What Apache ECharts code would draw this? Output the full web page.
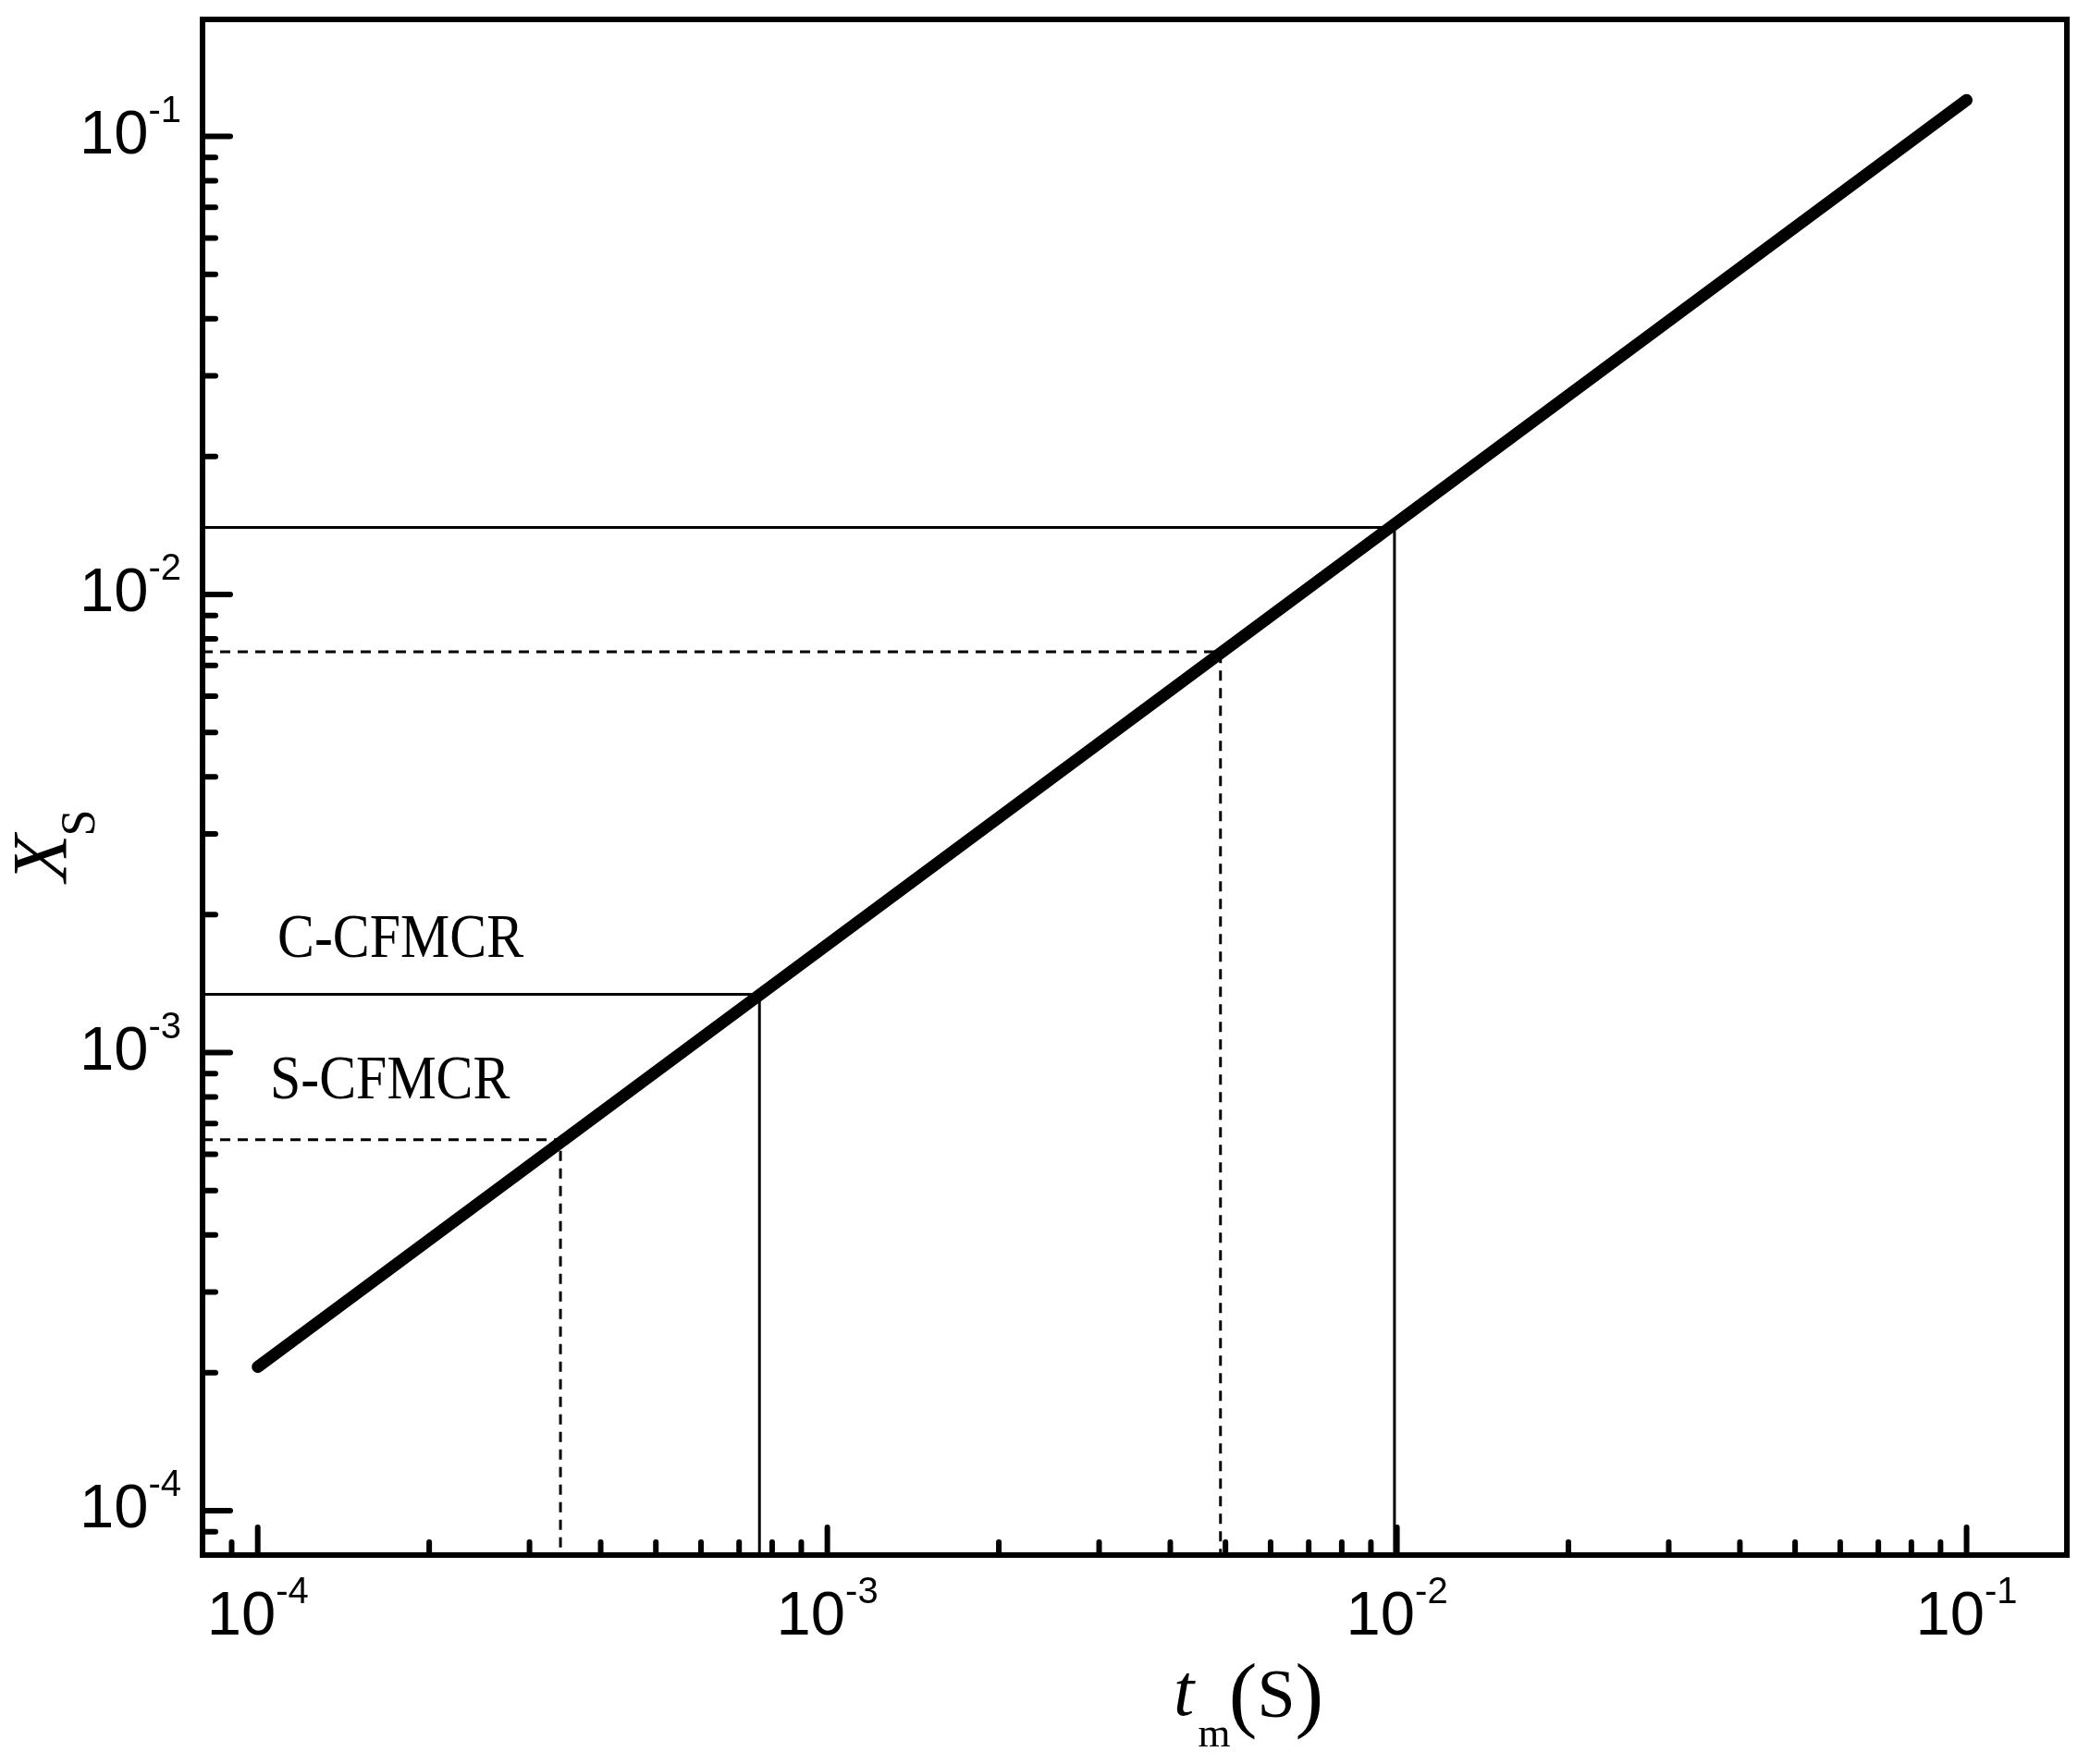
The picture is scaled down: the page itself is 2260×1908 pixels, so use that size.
<!DOCTYPE html>
<html>
<head>
<meta charset="utf-8">
<script src="https://cdn.jsdelivr.net/npm/echarts@6/dist/echarts.min.js"></script>
<style>
html, body { margin: 0; padding: 0; background: #fff; }
#chart { width: 2260px; height: 1908px; }
</style>
</head>
<body>
<div id="chart"></div>
<script>
// 坐标轴范围 (对数)
var xRange = [8e-5, 0.15]
var yRange = [8e-5, 0.18]
// 主线 t_m - X_S
var mainLine = [[1e-4, 2.06e-4], [0.1, 0.12]]
// C-CFMCR 实线交点
var cPoints = [[7.6e-4, 1.34e-3], [0.0099, 0.014]]
// S-CFMCR 虚线交点
var sPoints = [[3.4e-4, 6.45e-4], [0.0049, 0.0075]]
// 刻度
var decades = [1e-5, 1e-4, 1e-3, 1e-2, 1e-1]
var minorSteps = [2, 3, 4, 5, 6, 7, 8, 9]

var labelFont = "'Liberation Sans Narrow', 'Arial Narrow', 'Liberation Sans', sans-serif"
var serif = "'Liberation Serif', 'Times New Roman', serif"

// 参考线：从左轴水平到交点，再竖直到底轴
function guide(p) {
	return [[xRange[0], p[1]], [p[0], p[1]], [p[0], yRange[0]]]
}

// 刻度数据 [值, 是否主刻度]
function tickList(range) {
	var list = []
	decades.forEach(function (d) {
		if (d >= range[0] && d <= range[1]) list.push([d, 1])
		minorSteps.forEach(function (m) {
			var v = m * d
			if (v > range[0] * 1.0001 && v < range[1]) list.push([v, 0])
		})
	})
	return list
}
var xTicks = tickList(xRange).map(function (t) { return [t[0], yRange[0], t[1]] })
var yTicks = tickList(yRange).map(function (t) { return [xRange[0], t[0], t[1]] })

function tickRender(dir) {
	return function (params, api) {
		var p = api.coord([api.value(0), api.value(1)])
		var len = api.value(2) ? 30 : 14
		var shape = dir === 'x'
			? { x1: p[0], y1: p[1], x2: p[0], y2: p[1] - len }
			: { x1: p[0], y1: p[1], x2: p[0] + len, y2: p[1] }
		return { type: 'line', shape: shape, style: { stroke: '#000', lineWidth: 6, lineCap: 'round' } }
	}
}

// 10 的幂标签，指数用上标
function powLabel(v) {
	var lg = Math.log10(v)
	var e = Math.round(lg)
	if (Math.abs(lg - e) > 1e-6) return ''
	return '{b|10}{e|' + e + '}'
}
var labelRich = {
	b: { fontFamily: labelFont, fontSize: 67, lineHeight: 67, color: '#000' },
	e: { fontFamily: labelFont, fontSize: 40, lineHeight: 40, padding: [0, 0, 54, 0], color: '#000' }
}

var myChart = echarts.init(document.getElementById('chart'))

var option = {
	animation: false,
	backgroundColor: '#fff',
	grid: {
		left: 219, right: 25, top: 21, bottom: 226,
		show: true, borderColor: '#000', borderWidth: 6,
		outerBoundsMode: 'none'
	},
	xAxis: {
		type: 'log', logBase: 10,
		min: xRange[0], max: xRange[1],
		axisLine: { show: false },
		axisTick: { show: false },
		splitLine: { show: false },
		axisLabel: { margin: 34, formatter: powLabel, rich: labelRich }
	},
	yAxis: {
		type: 'log', logBase: 10,
		min: yRange[0], max: yRange[1],
		axisLine: { show: false },
		axisTick: { show: false },
		splitLine: { show: false },
		axisLabel: { margin: 23, formatter: powLabel, rich: labelRich }
	},
	graphic: [
		{ type: 'text', x: 50, y: 928, rotation: Math.PI / 2,
		  style: { text: 'X', font: 'italic 84px ' + serif, fill: '#000', align: 'center', verticalAlign: 'middle' } },
		{ type: 'text', x: 88, y: 890, rotation: Math.PI / 2,
		  style: { text: 'S', font: '52px ' + serif, fill: '#000', align: 'center', verticalAlign: 'middle' } },
		{ type: 'text', x: 1280, y: 1834,
		  style: { text: 't', font: 'italic 80px ' + serif, fill: '#000', align: 'center', verticalAlign: 'middle' } },
		{ type: 'text', x: 1313, y: 1877,
		  style: { text: 'm', font: '45px ' + serif, fill: '#000', align: 'center', verticalAlign: 'middle' } },
		{ type: 'text', x: 1380, y: 1838,
		  style: {
			text: '{p|(}{s|S}{p|)}', fill: '#000', align: 'center', verticalAlign: 'middle',
			rich: {
				p: { fontFamily: serif, fontSize: 92, lineHeight: 100, fill: '#000' },
				s: { fontFamily: serif, fontSize: 74, lineHeight: 100, fill: '#000' }
			}
		  } },
		{ type: 'text', x: 300, y: 1017, scaleX: 0.88,
		  style: { text: 'C-CFMCR', font: '68px ' + serif, fill: '#000', align: 'left', verticalAlign: 'middle' } },
		{ type: 'text', x: 292, y: 1170, scaleX: 0.88,
		  style: { text: 'S-CFMCR', font: '68px ' + serif, fill: '#000', align: 'left', verticalAlign: 'middle' } }
	],
	series: [
		{ type: 'line', data: guide(cPoints[0]), symbol: 'none', lineStyle: { color: '#000', width: 3 } },
		{ type: 'line', data: guide(cPoints[1]), symbol: 'none', lineStyle: { color: '#000', width: 3 } },
		{ type: 'line', data: guide(sPoints[0]), symbol: 'none', lineStyle: { color: '#000', width: 3, type: [11, 8] } },
		{ type: 'line', data: guide(sPoints[1]), symbol: 'none', lineStyle: { color: '#000', width: 3, type: [11, 8] } },
		{ type: 'line', data: mainLine, symbol: 'none', lineStyle: { color: '#000', width: 13, cap: 'round' } },
		{ type: 'custom', data: xTicks, renderItem: tickRender('x') },
		{ type: 'custom', data: yTicks, renderItem: tickRender('y') }
	]
}

myChart.setOption(option)
</script>
</body>
</html>
